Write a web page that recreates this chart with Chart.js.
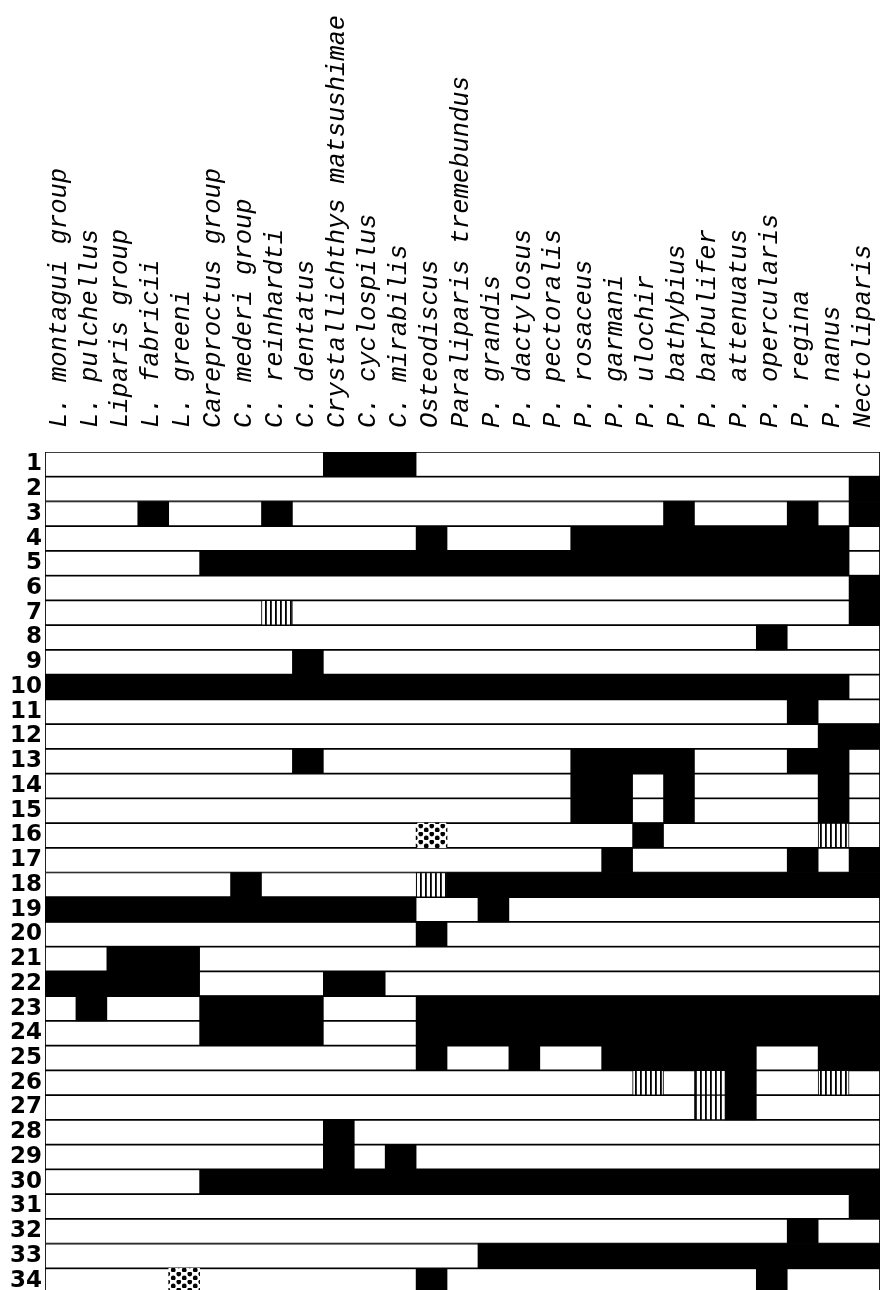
<!DOCTYPE html>
<html>
<head>
<meta charset="utf-8">
<script src="https://cdn.jsdelivr.net/npm/chart.js@4"></script>
<style>
  html, body { margin: 0; padding: 0; background: #fff; overflow: hidden; }
  #wrap { width: 882px; height: 1293px; }
</style>
</head>
<body>
<div id="wrap"><canvas id="c" width="882" height="1293"></canvas></div>
<script>
// taxa (columns), read left to right
const taxa = [
  "L. montagui group", "L. pulchellus", "Liparis group", "L. fabricii", "L. greeni",
  "Careproctus group", "C. mederi group", "C. reinhardti", "C. dentatus",
  "Crystallichthys matsushimae", "C. cyclospilus", "C. mirabilis", "Osteodiscus",
  "Paraliparis tremebundus", "P. grandis", "P. dactylosus", "P. pectoralis",
  "P. rosaceus", "P. garmani", "P. ulochir", "P. bathybius", "P. barbulifer",
  "P. attenuatus", "P. opercularis", "P. regina", "P. nanus", "Nectoliparis"
];

// character numbers (rows)
const characters = [
  "1", "2", "3", "4", "5", "6", "7", "8", "9", "10", "11", "12", "13", "14", "15", "16", "17",
  "18", "19", "20", "21", "22", "23", "24", "25", "26", "27", "28", "29", "30", "31", "32", "33", "34"
];

// states per row, one char per taxon: . open  # filled  | hatched  : dotted
const states = [
  ".........###...............",
  "..........................#",
  "...#...#............#...#.#",
  "............#....#########.",
  ".....#####################.",
  "..........................#",
  ".......|..................#",
  ".......................#...",
  "........#..................",
  "##########################.",
  "........................#..",
  ".........................##",
  "........#........####...##.",
  ".................##.#....#.",
  ".................##.#....#.",
  "............:......#.....|.",
  "..................#.....#.#",
  "......#.....|##############",
  "############..#............",
  "............#..............",
  "..###......................",
  "#####....##................",
  ".#...####...###############",
  ".....####...###############",
  "............#..#..#####..##",
  "...................|.|#..|.",
  ".....................|#....",
  ".........#.................",
  ".........#.#...............",
  ".....######################",
  "..........................#",
  "........................#..",
  "..............#############",
  "....:.......#..........#..."
];

states.forEach((s, i) => {
  if (s.length != taxa.length) throw new Error("row " + (i + 1) + " has " + s.length);
});

const ctx = document.getElementById('c').getContext('2d');

function pattern(w, h, draw) {
  const c = document.createElement('canvas');
  c.width = w; c.height = h;
  const g = c.getContext('2d');
  g.fillStyle = '#fff';
  g.fillRect(0, 0, w, h);
  g.fillStyle = '#000';
  draw(g);
  return ctx.createPattern(c, 'repeat');
}

const hatch = pattern(5, 10, g => g.fillRect(0, 0, 1.8, 10));
const dots = pattern(11, 8, g => {
  g.beginPath(); g.arc(2.75, 2, 2.4, 0, Math.PI * 2); g.fill();
  g.beginPath(); g.arc(8.25, 6, 2.4, 0, Math.PI * 2); g.fill();
});

// filled runs are merged so neighbouring cells do not show seams
let filled = [], hatched = [], dotted = [], rows = [];
states.forEach((s, r) => {
  const y = characters[r];
  rows.push({ y: y, x: [0, taxa.length] });
  let c = 0;
  while (c < s.length) {
    if (s[c] == '#') {
      let e = c;
      while (e < s.length && s[e] == '#') e++;
      filled.push({ y: y, x: [c, e] });
      c = e;
      continue;
    }
    if (s[c] == '|') hatched.push({ y: y, x: [c, c + 1] });
    if (s[c] == ':') dotted.push({ y: y, x: [c, c + 1] });
    c++;
  }
});

const common = { grouped: false, barPercentage: 1, categoryPercentage: 1, borderSkipped: false };

function noPad(s) {
  s.paddingLeft = 0; s.paddingRight = 0; s.paddingTop = 0; s.paddingBottom = 0;
}

new Chart(ctx, {
  type: 'bar',
  data: {
    datasets: [
      { ...common, label: 'filled', data: filled, backgroundColor: '#000', borderWidth: 0, order: 1 },
      { ...common, label: 'hatched', data: hatched, backgroundColor: hatch, borderColor: '#000', borderWidth: 1, order: 1 },
      { ...common, label: 'dotted', data: dotted, backgroundColor: dots, borderWidth: 0, order: 1 },
      { ...common, label: 'rows', data: rows, backgroundColor: '#fff', borderColor: '#000', borderWidth: 1.2, order: 3 }
    ]
  },
  options: {
    indexAxis: 'y',
    responsive: false,
    animation: false,
    devicePixelRatio: 1,
    layout: { padding: { left: 0, right: 2, top: 0, bottom: 0 } },
    plugins: { legend: { display: false }, tooltip: { enabled: false } },
    scales: {
      x: { type: 'linear', min: 0, max: taxa.length, display: false },
      x2: {
        axis: 'x',
        type: 'category',
        labels: taxa,
        position: 'top',
        offset: true,
        grid: { display: false, drawTicks: false },
        border: { display: false },
        ticks: {
          autoSkip: false,
          minRotation: 90,
          maxRotation: 90,
          padding: 24,
          labelOffset: 29,
          color: '#000',
          font: { family: "'Liberation Mono', monospace", style: 'italic', size: 25.5 }
        },
        afterFit: s => { s.height = 452; noPad(s); }
      },
      y: {
        type: 'category',
        labels: characters,
        offset: true,
        grid: { display: false, drawTicks: false },
        border: { display: false },
        ticks: {
          autoSkip: false,
          padding: 3,
          color: '#000',
          font: { family: "'DejaVu Sans'", weight: 'bold', size: 23 }
        },
        afterFit: s => { s.width = 45; noPad(s); }
      }
    }
  }
});
</script>
</body>
</html>
